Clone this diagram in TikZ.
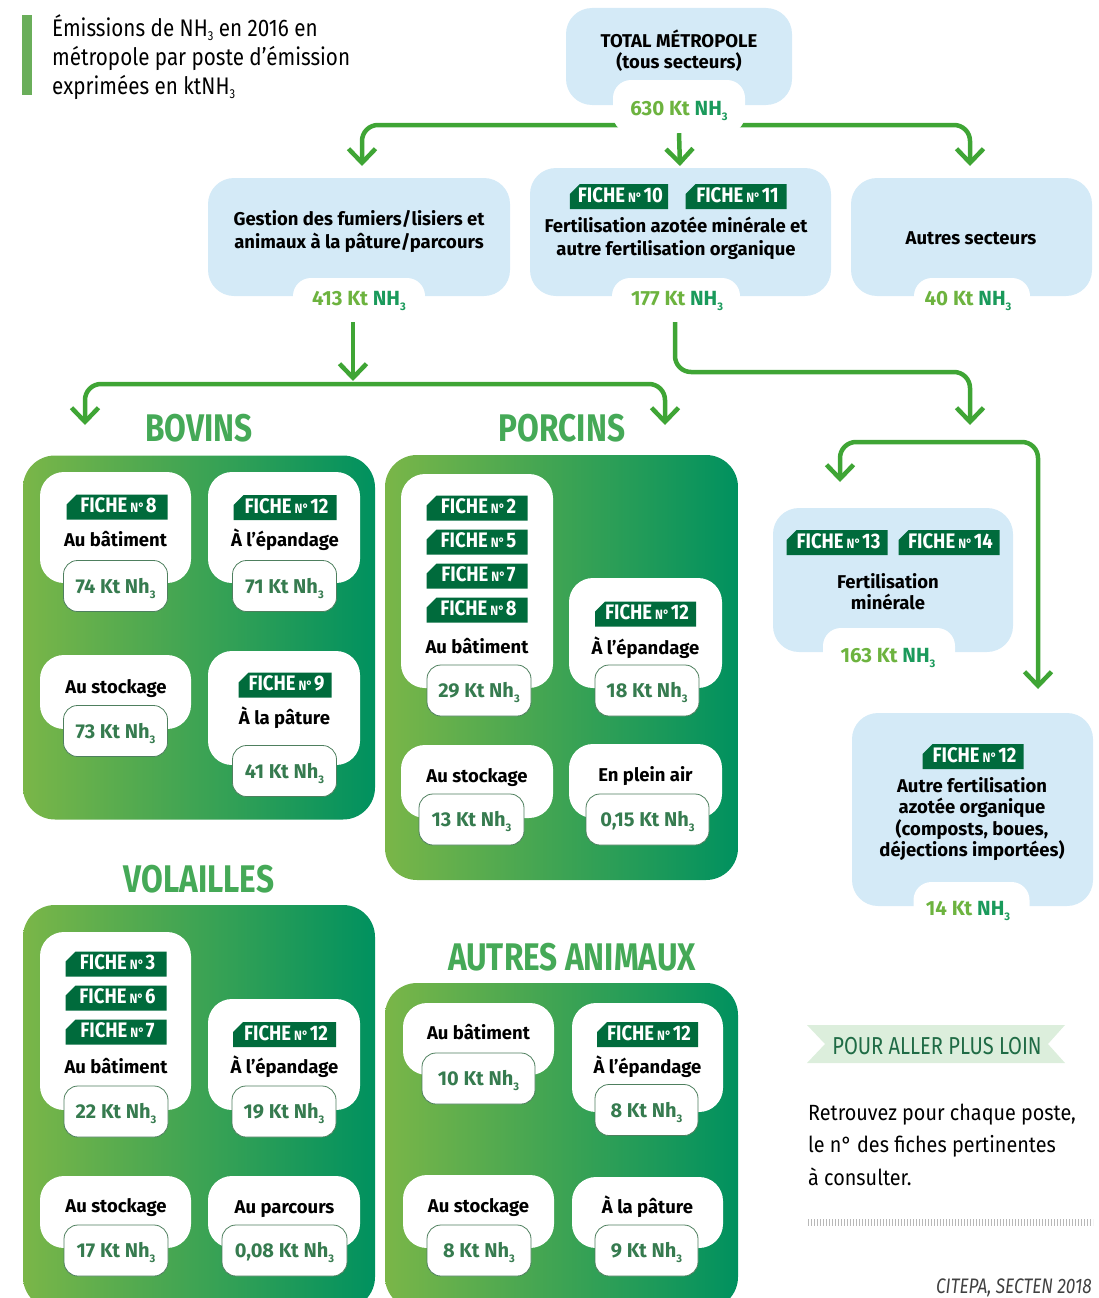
\documentclass[tikz,border=0pt]{standalone}
\usepackage{fontspec}
\setmainfont{Fira Sans}
\newfontfamily\condf[FakeStretch=0.82]{Fira Sans}
\newfontfamily\tagf[FakeStretch=0.88]{Fira Sans}
\newfontfamily\titlef[FakeStretch=0.86]{Fira Sans}
\newfontfamily\lightf[FakeStretch=0.9]{Fira Sans}
\usetikzlibrary{shapes.misc,arrows.meta}
\definecolor{lblue}{HTML}{D4EAF7}
\definecolor{agreen}{HTML}{3FA535}
\definecolor{pleft}{HTML}{7AB648}
\definecolor{pright}{HTML}{00915F}
\definecolor{tagg}{HTML}{006B3C}
\definecolor{headg}{HTML}{45A957}
\definecolor{pillt}{HTML}{367B4F}
\definecolor{pillb}{HTML}{4E7F5E}
\definecolor{vlight}{HTML}{6DB33F}
\definecolor{vdark}{HTML}{1A9A5B}
\definecolor{ribbonc}{HTML}{DCEEDC}
\definecolor{ribt}{HTML}{1F6B45}
\definecolor{titlebar}{HTML}{6AAE5A}
\newcommand{\subthree}{\raisebox{-5pt}{\fontsize{11}{11}\selectfont 3}}
\newcommand{\fch}[1]{\hspace{3pt}FICHE\hspace{3pt}{\fontsize{13.5}{13.5}\selectfont N°}\hspace{1.5pt}#1}
\newcommand{\pv}[1]{#1 Kt Nh\subthree}
\newcommand{\bv}[1]{\textcolor{vlight}{#1 Kt} \textcolor{vdark}{NH\subthree}}
\begin{document}
\begin{tikzpicture}[x=1pt,y=-1pt,
  arr/.style={draw=agreen, line width=4.5pt, rounded corners=16pt,
    -{Straight Barb[length=14pt,width=27pt]}},
  arrb/.style={draw=agreen, line width=4.5pt, rounded corners=16pt,
    {Straight Barb[length=14pt,width=27pt]}-{Straight Barb[length=14pt,width=27pt]}},
  bluebox/.style={fill=lblue, rounded corners=26pt, inner sep=0pt},
  tabbox/.style={fill=white, rounded corners=18pt, inner sep=0pt},
  wbox/.style={fill=white, rounded corners=24pt, inner sep=0pt},
  pill/.style={fill=white, draw=pillb, line width=0.8pt, rounded corners=14pt, inner sep=0pt,
    minimum height=51pt, minimum width=104pt,
    font=\bfseries\fontsize{20}{20}\selectfont, text=pillt, text height=14pt, text depth=0pt},
  panel/.style={left color=pleft, right color=pright, rounded corners=32pt, inner sep=0pt},
  ftag/.style={chamfered rectangle, chamfered rectangle corners=north west,
    chamfered rectangle xsep=5pt, chamfered rectangle ysep=5pt,
    fill=tagg, text=white, inner xsep=0pt, inner ysep=0pt, minimum height=25pt, minimum width=101pt,
    font=\tagf\bfseries\fontsize{21}{21}\selectfont, text height=11pt, text depth=0pt},
  lbl/.style={font=\bfseries\fontsize{18.5}{20}\selectfont, text=black, inner sep=0pt, text height=13pt, text depth=0pt},
  blbl/.style={font=\bfseries\fontsize{18.5}{23}\selectfont, align=center, inner sep=0pt},
  bval/.style={font=\bfseries\fontsize{20.5}{20}\selectfont, inner sep=0pt, text height=14pt, text depth=0pt},
  head/.style={font=\condf\bfseries\fontsize{38.5}{38}\selectfont, text=headg, inner sep=0pt}
]
\useasboundingbox (0,0) rectangle (1098,1298);

% ---------- title ----------
\fill[titlebar] (22,15) rectangle (32,95);
\node[anchor=west, inner sep=0pt, align=left, font=\titlef\fontsize{24}{29}\selectfont] (title) at (52,57)
  {Émissions de NH\raisebox{-4pt}{\fontsize{13}{13}\selectfont 3} en 2016 en\\métropole par poste d’émission\\exprimées en ktNH\raisebox{-4pt}{\fontsize{13}{13}\selectfont 3}};

% ---------- top connectors ----------
\coordinate (gin) at (362,166);
\coordinate (ain) at (970,166);
\coordinate (fin) at (680,166);
\draw[arrb] (gin) -- (362,125) -- (970,125) -- (ain);

% ---------- total ----------
\node[bluebox, minimum width=226pt, minimum height=97pt] (total) at (679,56.5) {};
\node[blbl, font=\bfseries\fontsize{18.5}{21}\selectfont] (totaltxt) at (679,50.5) {TOTAL MÉTROPOLE\\(tous secteurs)};
\node[tabbox, minimum width=132pt, minimum height=53pt] (tab630) at (679,106.5) {};
\node[bval] (v630) at (679,108) {\bv{630}};
\draw[arr] (tab630.south) -- (fin);

% ---------- second row ----------
\node[bluebox, minimum width=302pt, minimum height=118pt] (gestion) at (359,237) {};
\node[blbl] (gestiontxt) at (359,231.5) {Gestion des fumiers/lisiers et\\animaux à la pâture/parcours};
\node[tabbox, minimum width=132pt, minimum height=44pt] (tab413) at (359,300) {};
\node[bval] (v413) at (359,298) {\bv{413}};

\node[bluebox, minimum width=301pt, minimum height=128pt] (fert) at (680.5,232) {};
\node[ftag, minimum width=98pt] (f10) at (619,196.5) {\fch{10}};
\node[ftag] (f11) at (736,196.5) {\fch{11}};
\node[blbl] (ferttxt) at (676,238.5) {Fertilisation azotée minérale et\\autre fertilisation organique};
\node[tabbox, minimum width=128pt, minimum height=44pt] (tab177) at (676,300) {};
\node[bval] (v177) at (677,298) {\bv{177}};

\node[bluebox, minimum width=241pt, minimum height=118pt] (autres) at (971.5,237) {};
\node[blbl] (autrestxt) at (971,238) {Autres secteurs};
\node[tabbox, minimum width=116pt, minimum height=44pt] (tab40) at (972,300) {};
\node[bval] (v40) at (968,298) {\bv{40}};

% ---------- lower connectors ----------
\coordinate (s413) at (353,322);
\coordinate (j384) at (353,381);
\draw[arr] (s413) -- (j384);
\coordinate (bovin) at (85,425);
\coordinate (porin) at (665,425);
\draw[arrb] (bovin) -- (85,384) -- (665,384) -- (porin);
\coordinate (s177) at (675,322);
\coordinate (rin) at (970,425);
\draw[arr] (s177) -- (675,372) -- (970,372) -- (rin);
\coordinate (fmin) at (840,482);
\coordinate (afin) at (1038,689);
\draw[arrb] (fmin) -- (840,442) -- (1038,442) -- (afin);

% ---------- right side ----------
\node[bluebox, minimum width=240pt, minimum height=144pt] (fm) at (893,580) {};
\node[ftag] (f13) at (837,542.5) {\fch{13}};
\node[ftag] (f14) at (949,542.5) {\fch{14}};
\node[blbl, font=\bfseries\fontsize{18.5}{21}\selectfont] (fmtxt) at (888,591.5) {Fertilisation\\minérale};
\node[tabbox, minimum width=132pt, minimum height=44pt] (tab163) at (889,650) {};
\node[bval] (v163) at (888,655) {\bv{163}};

\node[bluebox, minimum width=241pt, minimum height=193pt] (af) at (972.5,809.5) {};
\node[ftag] (f12r) at (973,756.5) {\fch{12}};
\node[blbl, font=\bfseries\fontsize{18.5}{21.3}\selectfont] (aftxt) at (972,819) {Autre fertilisation\\azotée organique\\(composts, boues,\\déjections importées)};
\node[tabbox, minimum width=116pt, minimum height=44pt] (tab14) at (971.5,904) {};
\node[bval] (v14) at (968,908) {\bv{14}};

% ---------- BOVINS ----------
\node[head] (hbov) at (199,428) {BOVINS};
\node[panel, minimum width=352pt, minimum height=364pt] (pbov) at (199,637.5) {};
\node[wbox, minimum width=151pt, minimum height=111pt] (b1) at (115.5,527.5) {};
\node[ftag] (b1t) at (117,507) {\fch{8}};
\node[lbl] (b1l) at (115.5,540) {Au bâtiment};
\node[pill] (b1v) at (115.5,586) {\pv{74}};
\node[wbox, minimum width=152pt, minimum height=111pt] (b2) at (284,527.5) {};
\node[ftag, minimum width=103pt] (b2t) at (285,507.5) {\fch{12}};
\node[lbl] (b2l) at (285,540) {À l’épandage};
\node[pill] (b2v) at (284.5,586) {\pv{71}};
\node[wbox, minimum width=151pt, minimum height=74pt] (b3) at (115.5,692) {};
\node[lbl] (b3l) at (116,687) {Au stockage};
\node[pill] (b3v) at (115.5,731) {\pv{73}};
\node[wbox, minimum width=152pt, minimum height=114pt] (b4) at (284,708) {};
\node[ftag, minimum width=93pt] (b4t) at (285,685) {\fch{9}};
\node[lbl] (b4l) at (284.5,718) {À la pâture};
\node[pill] (b4v) at (284.5,771) {\pv{41}};

% ---------- PORCINS ----------
\node[head] (hpor) at (562,428) {PORCINS};
\node[panel, minimum width=353pt, minimum height=425pt] (ppor) at (561.5,667.5) {};
\node[wbox, minimum width=152pt, minimum height=214pt] (p1) at (477,581) {};
\node[ftag] (p1a) at (477,508) {\fch{2}};
\node[ftag] (p1b) at (477,542) {\fch{5}};
\node[ftag] (p1c) at (477,576) {\fch{7}};
\node[ftag] (p1d) at (477,610) {\fch{8}};
\node[lbl] (p1l) at (477,647) {Au bâtiment};
\node[pill] (p1v) at (479,690.5) {\pv{29}};
\node[wbox, minimum width=153pt, minimum height=110pt] (p2) at (645.5,633) {};
\node[ftag] (p2t) at (645.5,614) {\fch{12}};
\node[lbl] (p2l) at (645.5,648) {À l’épandage};
\node[pill] (p2v) at (647,690.5) {\pv{18}};
\node[wbox, minimum width=152pt, minimum height=73pt] (p3) at (477,781.5) {};
\node[lbl] (p3l) at (477,776) {Au stockage};
\node[pill, minimum width=105pt] (p3v) at (471.5,819.5) {\pv{13}};
\node[wbox, minimum width=153pt, minimum height=74pt] (p4) at (645.5,781) {};
\node[lbl] (p4l) at (645.5,775) {En plein air};
\node[pill, minimum width=123pt] (p4v) at (647.5,819.5) {\pv{0,15}};

% ---------- VOLAILLES ----------
\node[head] (hvol) at (199,879) {VOLAILLES};
\node[panel, minimum width=352pt, minimum height=404pt] (pvol) at (199,1107) {};
\node[wbox, minimum width=151pt, minimum height=178pt] (v1) at (115.5,1021) {};
\node[ftag] (v1a) at (116,964) {\fch{3}};
\node[ftag] (v1b) at (116,998) {\fch{6}};
\node[ftag] (v1c) at (116,1032) {\fch{7}};
\node[lbl] (v1l) at (116,1067) {Au bâtiment};
\node[pill] (v1v) at (116,1111.5) {\pv{22}};
\node[wbox, minimum width=152pt, minimum height=111pt] (v2) at (284,1054.5) {};
\node[ftag, minimum width=103pt] (v2t) at (284.5,1034.5) {\fch{12}};
\node[lbl] (v2l) at (284.5,1067) {À l’épandage};
\node[pill] (v2v) at (284,1111.5) {\pv{19}};
\node[wbox, minimum width=151pt, minimum height=72pt] (v3) at (115.5,1212) {};
\node[lbl] (v3l) at (116,1206) {Au stockage};
\node[pill] (v3v) at (116,1250.5) {\pv{17}};
\node[wbox, minimum width=152pt, minimum height=72pt] (v4) at (284,1212) {};
\node[lbl] (v4l) at (284.5,1207) {Au parcours};
\node[pill, minimum width=125pt] (v4v) at (284.5,1250.5) {\pv{0,08}};

% ---------- AUTRES ANIMAUX ----------
\node[head] (haut) at (572,957) {AUTRES ANIMAUX};
\node[panel, minimum width=353pt, minimum height=326pt] (paut) at (561.5,1146) {};
\node[wbox, minimum width=151pt, minimum height=72pt] (a1) at (478.5,1039) {};
\node[lbl] (a1l) at (478.5,1033) {Au bâtiment};
\node[pill, minimum width=113pt] (a1v) at (478.5,1078.5) {\pv{10}};
\node[wbox, minimum width=151pt, minimum height=109pt] (a2) at (647.5,1057.5) {};
\node[ftag] (a2t) at (647.5,1034.5) {\fch{12}};
\node[lbl] (a2l) at (647.5,1067) {À l’épandage};
\node[pill, minimum width=103pt] (a2v) at (646.5,1110) {\pv{8}};
\node[wbox, minimum width=151pt, minimum height=73pt] (a3) at (478.5,1211.5) {};
\node[lbl] (a3l) at (478.5,1206) {Au stockage};
\node[pill] (a3v) at (479,1250.5) {\pv{8}};
\node[wbox, minimum width=151pt, minimum height=71pt] (a4) at (647.5,1212.5) {};
\node[lbl] (a4l) at (647.5,1207) {À la pâture};
\node[pill, minimum width=103pt] (a4v) at (646.5,1250.5) {\pv{9}};

% ---------- pour aller plus loin ----------
\fill[ribbonc] (807,1025) -- (1065,1025) -- (1048,1044) -- (1065,1063) -- (807,1063) -- (825,1044) -- cycle;
\node[inner sep=0pt, text=ribt, font=\condf\fontsize{24.5}{24}\selectfont] (ribtxt) at (937,1046) {POUR ALLER PLUS LOIN};
\node[anchor=west, inner sep=0pt, align=left, font=\lightf\fontsize{22}{32.5}\selectfont] (info) at (808,1144.5)
  {Retrouvez pour chaque poste,\\le n° des fiches pertinentes\\à consulter.};
\coordinate (dl1) at (808,1222);
\coordinate (dl2) at (1093,1222);
\draw[black!28, line width=7pt, dash pattern=on 1pt off 2pt] (dl1) -- (dl2);
\node[anchor=east, inner sep=0pt, text=black!75, font=\condf\itshape\fontsize{21}{21}\selectfont] (src) at (1092,1288) {CITEPA, SECTEN 2018};
\end{tikzpicture}
\end{document}
